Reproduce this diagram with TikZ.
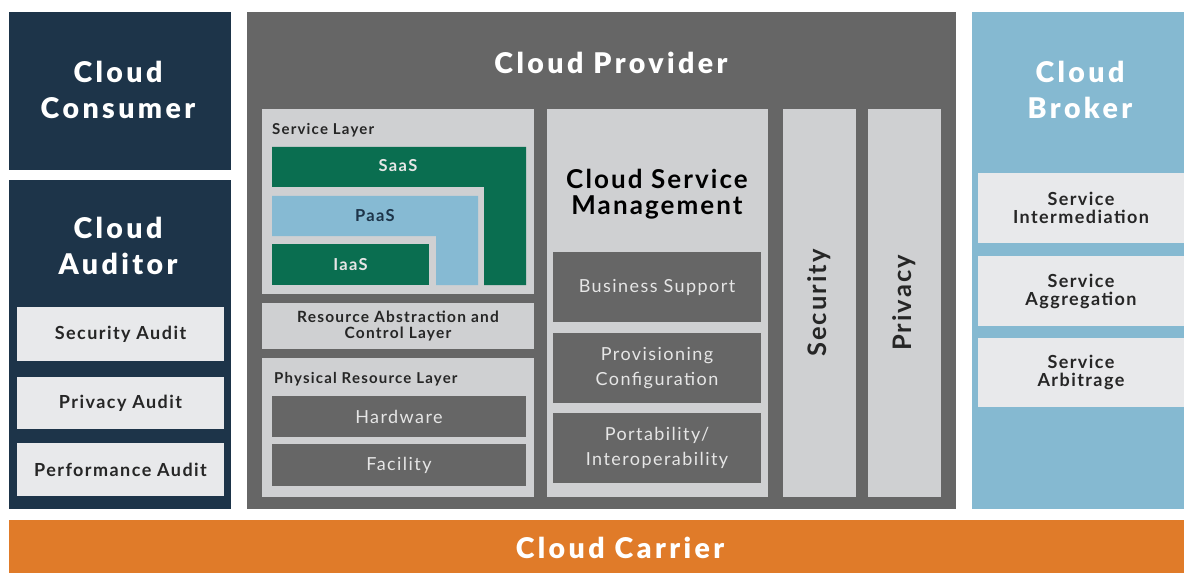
\documentclass[tikz,border=0pt]{standalone}
\usepackage{fontspec}
\setmainfont{Lato}[LetterSpace=8]
\newfontfamily\titlefont{Lato Black}[LetterSpace=12]
\definecolor{navy}{HTML}{1D3449}
\definecolor{provgray}{HTML}{666666}
\definecolor{panel}{HTML}{CFD0D2}
\definecolor{lightbox}{HTML}{E8E9EB}
\definecolor{sgreen}{HTML}{0A6E50}
\definecolor{pblue}{HTML}{86BAD3}
\definecolor{bblue}{HTML}{85B9D1}
\definecolor{carrier}{HTML}{E07B29}
\definecolor{darktext}{HTML}{262626}
\definecolor{lighttext}{HTML}{E6E6E6}
\tikzset{
  blk/.style={inner sep=0pt, outer sep=0pt, anchor=north west, align=center},
  bigtitle/.style={font=\fontsize{28.5}{36}\selectfont\titlefont, text=white, align=center, inner sep=0pt},
  smalllbl/.style={font=\fontsize{15}{17}\selectfont\bfseries, text=darktext, anchor=west, inner sep=0pt},
  lightlbl/.style={font=\fontsize{18}{25}\selectfont, text=lighttext},
  darklbl/.style={font=\fontsize{18}{18}\selectfont\bfseries, text=darktext},
  saaslbl/.style={font=\fontsize{16.5}{18}\selectfont\bfseries, inner sep=0pt},
  vertlbl/.style={font=\fontsize{25.5}{27}\selectfont\bfseries, text=darktext, rotate=90, inner sep=0pt}
}
\begin{document}
\begin{tikzpicture}[x=1pt,y=-1pt]
\useasboundingbox (0,0) rectangle (1184,575);
\fill[white] (0,0) rectangle (1184,575);

% Cloud Consumer
\node[blk, fill=navy, minimum width=222pt, minimum height=158pt] (consumer) at (9,12) {};
\node[bigtitle] (consumerlbl) at (118,90) {Cloud\\Consumer};

% Cloud Auditor
\node[blk, fill=navy, minimum width=222pt, minimum height=329pt] (auditor) at (9,180) {};
\node[bigtitle] (auditorlbl) at (118,246) {Cloud\\Auditor};
\node[blk, fill=lightbox, minimum width=207pt, minimum height=54pt, darklbl] (secaudit) at (17,307) {Security Audit};
\node[blk, fill=lightbox, minimum width=207pt, minimum height=52pt, darklbl] (privaudit) at (17,377) {Privacy Audit};
\node[blk, fill=lightbox, minimum width=207pt, minimum height=53pt, darklbl] (perfaudit) at (17,443) {Performance Audit};

% Cloud Provider
\node[blk, fill=provgray, minimum width=709pt, minimum height=497pt] (provider) at (247,12) {};
\node[bigtitle] (providerlbl) at (611,63) {Cloud Provider};

% Service Layer
\node[blk, fill=panel, minimum width=272pt, minimum height=185pt] (servicelayer) at (262,109) {};
\node[smalllbl] (servicelbl) at (272,130) {Service Layer};
\fill[sgreen] (272,147) -- (526,147) -- (526,285) -- (484,285) -- (484,187) -- (272,187) -- cycle;
\node[saaslbl, text=lighttext] (saas) at (398,166) {SaaS};
\fill[pblue] (272,196) -- (478,196) -- (478,285) -- (436,285) -- (436,236) -- (272,236) -- cycle;
\node[saaslbl, text=navy] (paas) at (375,216) {PaaS};
\node[blk, fill=sgreen, minimum width=157pt, minimum height=41pt, saaslbl, text=lighttext] (iaas) at (272,244) {IaaS};

% Resource Abstraction
\node[blk, fill=panel, minimum width=272pt, minimum height=46pt, font=\fontsize{15.5}{16}\selectfont\bfseries, text=darktext] (rac) at (262,303) {Resource Abstraction and\\Control Layer};

% Physical Resource Layer
\node[blk, fill=panel, minimum width=272pt, minimum height=139pt] (physical) at (262,358) {};
\node[smalllbl] (physlbl) at (274,379) {Physical Resource Layer};
\node[blk, fill=provgray, minimum width=254pt, minimum height=41pt, lightlbl] (hardware) at (272,396) {Hardware};
\node[blk, fill=provgray, minimum width=254pt, minimum height=42pt, lightlbl] (facility) at (272,444) {Facility};

% Cloud Service Management
\node[blk, fill=panel, minimum width=221pt, minimum height=388pt] (csm) at (547,109) {};
\node[font=\fontsize{26}{26}\selectfont\bfseries, text=black, align=center, inner sep=0pt] (csmlbl) at (657,194) {Cloud Service\\Management};
\node[blk, fill=provgray, minimum width=208pt, minimum height=70pt, lightlbl] (business) at (553,252) {Business Support};
\node[blk, fill=provgray, minimum width=208pt, minimum height=70pt, lightlbl] (provisioning) at (553,333) {Provisioning\\Configuration};
\node[blk, fill=provgray, minimum width=208pt, minimum height=70pt, lightlbl] (portability) at (553,413) {Portability/\\Interoperability};

% Security & Privacy columns
\node[blk, fill=panel, minimum width=73pt, minimum height=388pt] (security) at (783,109) {};
\node[vertlbl] (seclbl) at (819,303) {Security};
\node[blk, fill=panel, minimum width=73pt, minimum height=388pt] (privacy) at (868,109) {};
\node[vertlbl] (privlbl) at (904,303) {Privacy};

% Cloud Broker
\node[blk, fill=bblue, minimum width=212pt, minimum height=497pt] (broker) at (972,12) {};
\node[bigtitle] (brokerlbl) at (1080,90) {Cloud\\Broker};
\node[blk, fill=lightbox, minimum width=206pt, minimum height=70pt, darklbl] (intermed) at (978,173) {Service\\Intermediation};
\node[blk, fill=lightbox, minimum width=206pt, minimum height=70pt, darklbl] (aggreg) at (978,256) {Service\\Aggregation};
\node[blk, fill=lightbox, minimum width=206pt, minimum height=69pt, darklbl] (arbit) at (978,338) {Service\\Arbitrage};

% Cloud Carrier
\node[blk, fill=carrier, minimum width=1175pt, minimum height=53pt] (carrierbar) at (9,520) {};
\node[bigtitle] (carrierlbl) at (620,548) {Cloud Carrier};
\end{tikzpicture}
\end{document}
